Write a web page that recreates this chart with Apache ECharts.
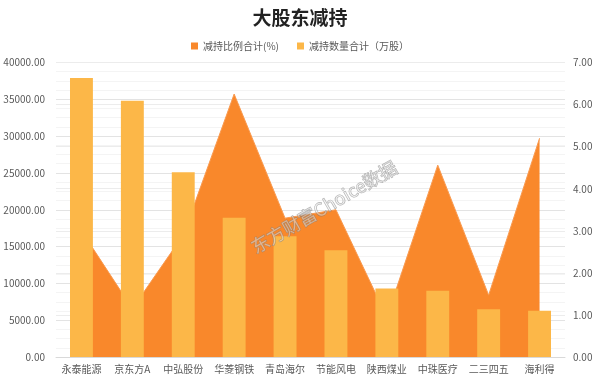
<!DOCTYPE html>
<html>
<head>
<meta charset="utf-8">
<script src="https://cdn.jsdelivr.net/npm/echarts@6/dist/echarts.min.js"></script>
<style>html,body{margin:0;padding:0;background:#fff}#c{width:600px;height:381px}</style>
</head>
<body>
<div id="c"></div>
<script>
const categories = ['永泰能源','京东方A','中弘股份','华菱钢铁','青岛海尔','节能风电','陕西煤业','中珠医疗','二三四五','海利得'];
const pctValues = [3.0, 1.15, 2.9, 6.25, 3.3, 3.5, 0.95, 4.56, 1.47, 5.2];
const qtyValues = [37900, 34800, 25100, 18900, 16400, 14500, 9300, 9000, 6480, 6290];
const seriesNames = ['减持比例合计(%)', '减持数量合计（万股）'];
const titleText = '大股东减持';
const watermarkText = '东方财富Choice数据';

const FONT = "'Noto Sans CJK SC', sans-serif";
const chart = echarts.init(document.getElementById('c'));
chart.setOption({
  animation: false,
  backgroundColor: '#fff',
  title: {
    text: titleText, left: 'center', top: 3,
    textStyle: { fontFamily: FONT, fontSize: 19, fontWeight: 'bold', color: '#222' }
  },
  legend: {
    top: 36, left: 'center', itemWidth: 7, itemHeight: 7, itemGap: 18,
    icon: 'rect',
    textStyle: { fontFamily: FONT, fontSize: 10, color: '#595959' },
    data: seriesNames
  },
  grid: { left: 56, right: 35, top: 62.5, bottom: 24, containLabel: false },
  xAxis: {
    type: 'category', data: categories, boundaryGap: true,
    axisTick: { show: false },
    axisLine: { lineStyle: { color: '#d9d9d9' } },
    axisLabel: { interval: 0, margin: 7, fontFamily: FONT, fontSize: 10, color: '#595959' }
  },
  yAxis: [
    {
      type: 'value', min: 0, max: 40000, interval: 5000,
      axisLine: { show: false }, axisTick: { show: false },
      axisLabel: { margin: 11, fontFamily: FONT, fontSize: 10, color: '#595959', formatter: v => v.toFixed(2) },
      splitLine: { lineStyle: { color: '#e3e3e3' } },
      minorTick: { show: false, splitNumber: 4 },
      minorSplitLine: { show: true, lineStyle: { color: '#f4f4f4' } }
    },
    {
      type: 'value', min: 0, max: 7, interval: 1, position: 'right',
      axisLine: { show: false }, axisTick: { show: false },
      axisLabel: { margin: 8, fontFamily: FONT, fontSize: 10, color: '#595959', formatter: v => v.toFixed(2) },
      splitLine: { lineStyle: { color: '#ececec' } }
    }
  ],
  series: [
    {
      name: seriesNames[0], type: 'line', yAxisIndex: 1, data: pctValues,
      symbol: 'none', z: 1,
      itemStyle: { color: '#F9882B' },
      lineStyle: { width: 1, color: '#F99A50' },
      areaStyle: { color: '#F9882B', opacity: 1 }
    },
    {
      name: seriesNames[1], type: 'bar', yAxisIndex: 0, data: qtyValues,
      barWidth: '45%', z: 3,
      itemStyle: { color: '#FCB748' }
    }
  ],
  graphic: [{
    type: 'text', x: 324, y: 207, rotation: 30 * Math.PI / 180, z: 100,
    style: {
      text: watermarkText, fontFamily: FONT, fontSize: 18,
      fill: 'rgba(255,255,255,0.4)', stroke: 'rgba(120,120,120,0.6)', lineWidth: 0.9,
      align: 'center', verticalAlign: 'middle'
    }
  }]
});
</script>
</body>
</html>
